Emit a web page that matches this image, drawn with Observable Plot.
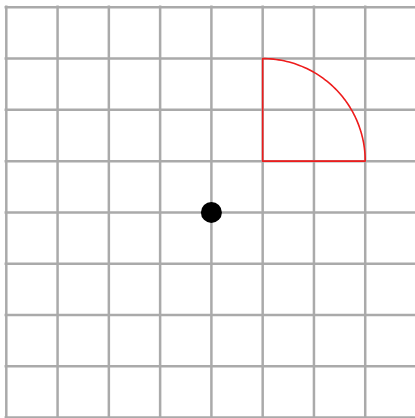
<!DOCTYPE html>
<html>
<head>
<meta charset="utf-8">
<script src="https://cdn.jsdelivr.net/npm/d3@7"></script>
<script src="https://cdn.jsdelivr.net/npm/@observablehq/plot@0.6"></script>
<style>
html,body{margin:0;padding:0;background:#fff;}
#chart svg{display:block;}
</style>
</head>
<body>
<div id="chart"></div>
<script>
// Grid lines (grid units)
const gridX = [0, 1, 2, 3, 4, 5, 6, 7, 8];
const gridY = [0, 1, 2, 3, 4, 5, 6, 7, 8];
// Black point
const pointX = [4];
const pointY = [4];
// Quarter-circle sector: centre, radius, start/end angles (degrees)
const sectorCenter = [5, 5];
const sectorRadius = 2;
const sectorAngles = [0, 90];

const arcSteps = 60;
const sector = [{x: sectorCenter[0], y: sectorCenter[1]}];
for (let i = 0; i <= arcSteps; i++) {
  const a = (sectorAngles[1] - (sectorAngles[1] - sectorAngles[0]) * i / arcSteps) * Math.PI / 180;
  sector.push({x: sectorCenter[0] + sectorRadius * Math.cos(a), y: sectorCenter[1] + sectorRadius * Math.sin(a)});
}
sector.push({x: sectorCenter[0], y: sectorCenter[1]});

const chart = Plot.plot({
  width: 415,
  height: 418,
  margin: 0,
  x: {domain: [0, 8], range: [5.8, 416], axis: null},
  y: {domain: [0, 8], range: [417, 6.8], axis: null},
  marks: [
    Plot.ruleX(gridX, {x: d => d, y1: 0, y2: 8, stroke: "#aaaaaa", strokeWidth: 2.5, strokeLinecap: "square"}),
    Plot.ruleY(gridY, {y: d => d, x1: 0, x2: 8, stroke: "#aaaaaa", strokeWidth: 2.5, strokeLinecap: "square"}),
    Plot.line(sector, {x: "x", y: "y", stroke: "#ee1c1c", strokeWidth: 1.6, fill: "none", curve: "linear"}),
    Plot.dot(pointX.map((x, i) => ({x, y: pointY[i]})), {x: "x", y: "y", r: 10.5, fill: "black", stroke: "none"})
  ]
});
document.getElementById("chart").append(chart);
</script>
</body>
</html>
